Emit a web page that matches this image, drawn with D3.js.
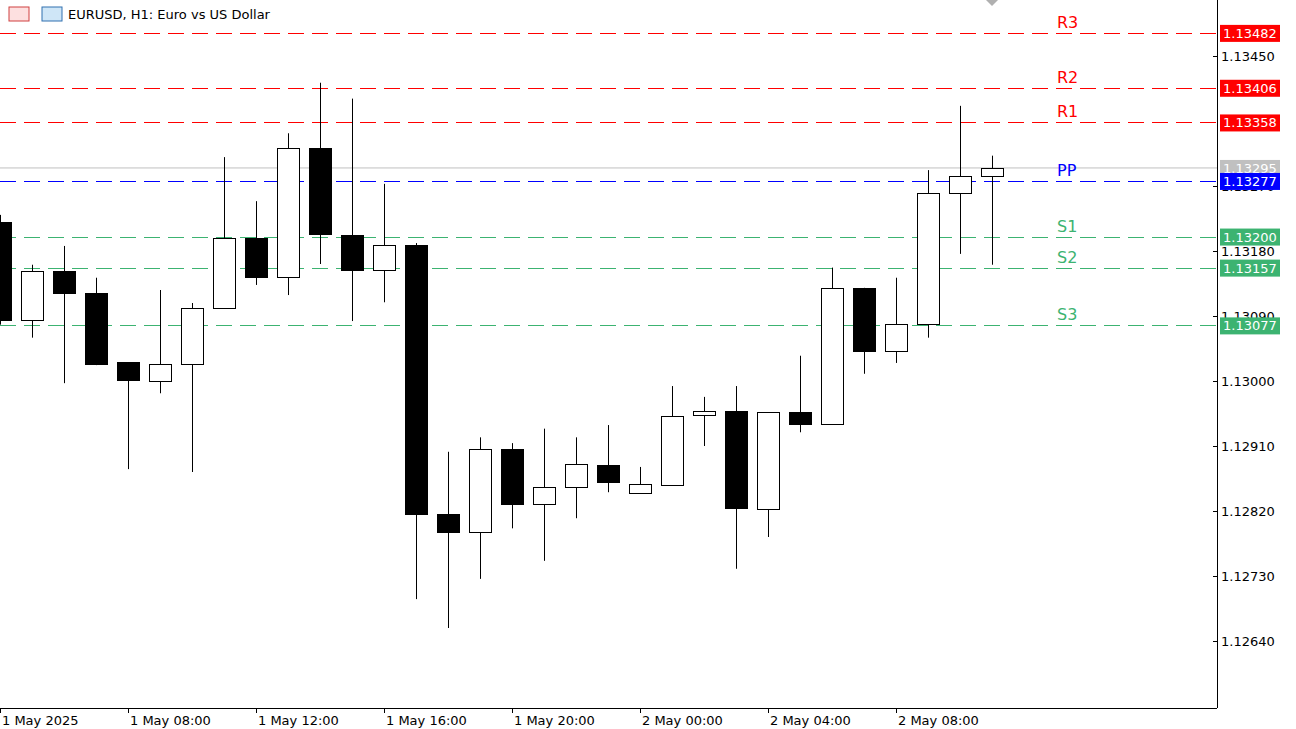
<!DOCTYPE html>
<html>
<head>
<meta charset="utf-8">
<script src="https://cdn.jsdelivr.net/npm/d3@7"></script>
<style>
body { margin:0; background:#fff; }
text { font-family: Tahoma, "DejaVu Sans", sans-serif; }
</style>
</head>
<body>
<div id="graph_here"></div>
<script>
// hourly candles EURUSD, starting 1 May 04:00
const opens  = [1.13220,1.13084,1.13152,1.13122,1.13026,1.13001,1.13024,1.13101,1.13198,1.13144,1.13323,1.13202,1.13154,1.13188,1.12816,1.12791,1.12906,1.12830,1.12853,1.12884,1.12845,1.12857,1.12952,1.12958,1.12823,1.12957,1.12940,1.13129,1.13042,1.13079,1.13260,1.13284];
const closes = [1.13084,1.13152,1.13122,1.13024,1.13001,1.13024,1.13101,1.13198,1.13144,1.13323,1.13204,1.13154,1.13188,1.12816,1.12791,1.12906,1.12830,1.12853,1.12885,1.12861,1.12857,1.12952,1.12958,1.12823,1.12957,1.12940,1.13129,1.13042,1.13079,1.13260,1.13284,1.13295];
const highs  = [1.13230,1.13161,1.13187,1.13143,1.13026,1.13126,1.13108,1.13310,1.13249,1.13343,1.13413,1.13391,1.13273,1.13191,1.12902,1.12922,1.12914,1.12934,1.12922,1.12939,1.12881,1.12993,1.12978,1.12993,1.12957,1.13035,1.13157,1.13129,1.13143,1.13292,1.13381,1.13312];
const lows   = [1.13078,1.13060,1.12997,1.13022,1.12878,1.12983,1.12874,1.13101,1.13133,1.13119,1.13162,1.13083,1.13109,1.12698,1.12658,1.12726,1.12796,1.12751,1.12810,1.12846,1.12845,1.12857,1.12910,1.12740,1.12784,1.12929,1.12940,1.13010,1.13025,1.13060,1.13176,1.13161];
const timeLabels = ["1 May 2025","1 May 08:00","1 May 12:00","1 May 16:00","1 May 20:00","2 May 00:00","2 May 04:00","2 May 08:00"];
const pivotNames  = ["R3","R2","R1","PP","S1","S2","S3"];
const pivotValues = [1.13482,1.13406,1.13358,1.13277,1.13200,1.13157,1.13077];
const pivotColors = ["#ff0000","#ff0000","#ff0000","#0000ff","#3cb371","#3cb371","#3cb371"];
const priceTicks = [1.13450,1.13270,1.13180,1.13090,1.13000,1.12910,1.12820,1.12730,1.12640];
const lastPrice = 1.13295;

function drawChart(){
    const width = 1296, height = 729;
    const plotW = 1217, plotH = 708;

    var svg = d3.select('#graph_here').append('svg')
        .attr('width', width).attr('height', height);

    const xScale = d3.scaleLinear().domain([0, 1]).range([0, 32]);
    const yScale = d3.scaleLinear().domain([1.13, 1.1345]).range([381, 56]);

    const g = svg.append('g');

    // current price line
    g.append('line').attr('x1', 0).attr('x2', plotW)
        .attr('y1', yScale(lastPrice)).attr('y2', yScale(lastPrice))
        .attr('stroke', '#c0c0c0');

    // pivot lines
    pivotValues.forEach((v, i) => {
        const y = Math.round(yScale(v)) + 0.5;
        g.append('line').attr('x1', 0).attr('x2', plotW).attr('y1', y).attr('y2', y)
            .attr('stroke', pivotColors[i]).attr('stroke-dasharray', '16,8');
        g.append('text').attr('x', 1057).attr('y', y - 6)
            .attr('fill', pivotColors[i]).style('font-size', '16px').text(pivotNames[i]);
    });

    // candles
    const bw = 22;
    const candles = g.selectAll('g.candle').data(opens).enter().append('g');
    candles.append('line')
        .attr('x1', (d, i) => Math.round(xScale(i)) + 0.5)
        .attr('x2', (d, i) => Math.round(xScale(i)) + 0.5)
        .attr('y1', (d, i) => yScale(highs[i]))
        .attr('y2', (d, i) => yScale(lows[i]))
        .attr('stroke', '#000');
    candles.append('rect')
        .attr('x', (d, i) => Math.round(xScale(i)) - bw / 2 + 0.5)
        .attr('y', (d, i) => Math.round(yScale(Math.max(d, closes[i]))) + 0.5)
        .attr('width', bw)
        .attr('height', (d, i) => Math.max(1, Math.round(Math.abs(yScale(d) - yScale(closes[i])))))
        .attr('fill', (d, i) => closes[i] < d ? '#000' : '#fff')
        .attr('stroke', '#000');

    // axes frame
    svg.append('line').attr('x1', plotW + 0.5).attr('x2', plotW + 0.5).attr('y1', 0).attr('y2', plotH)
        .attr('stroke', '#000');
    svg.append('line').attr('x1', 0).attr('x2', plotW).attr('y1', plotH + 0.5).attr('y2', plotH + 0.5)
        .attr('stroke', '#000');

    // price axis
    const yAxis = d3.axisRight(yScale).tickValues(priceTicks).tickSize(4)
        .tickFormat(d3.format('.5f'));
    const ya = svg.append('g').attr('transform', 'translate(' + (plotW - 4) + ',0)').call(yAxis);
    ya.select('.domain').remove();
    ya.selectAll('text').attr('x', 8).style('font-size', '13px')
        .style('font-family', 'Tahoma, "DejaVu Sans", sans-serif');

    // price labels
    const labels = [lastPrice].concat(pivotValues);
    const lcol = ['#c0c0c0'].concat(pivotColors);
    labels.forEach((v, i) => {
        const y = yScale(v);
        svg.append('rect').attr('x', plotW + 3).attr('y', y - 8).attr('width', 60).attr('height', 17)
            .attr('fill', lcol[i]);
        svg.append('text').attr('x', plotW + 6).attr('y', y + 5).attr('fill', '#fff')
            .style('font-size', '13px').text(d3.format('.5f')(v));
    });

    // time axis
    const xa = svg.append('g');
    timeLabels.forEach((t, i) => {
        const x = xScale(i * 4);
        xa.append('line').attr('x1', x + 0.5).attr('x2', x + 0.5).attr('y1', plotH).attr('y2', plotH + 5)
            .attr('stroke', '#000');
        xa.append('text').attr('x', x + 2).attr('y', 725).style('font-size', '13px').text(t);
    });

    // title
    svg.append('rect').attr('x', 9).attr('y', 7).attr('width', 20).attr('height', 14)
        .attr('fill', '#fde0e0').attr('stroke', '#d04040');
    svg.append('rect').attr('x', 42).attr('y', 7).attr('width', 20).attr('height', 14)
        .attr('fill', '#cfe6f7').attr('stroke', '#3070b0');
    svg.append('text').attr('x', 68).attr('y', 19).style('font-size', '13px')
        .text('EURUSD, H1:  Euro vs US Dollar');
    svg.append('path').attr('d', 'M986,0 L998,0 L992,6 Z').attr('fill', '#b0b0b0');
}
window.addEventListener('load', drawChart);
</script>
</body>
</html>
